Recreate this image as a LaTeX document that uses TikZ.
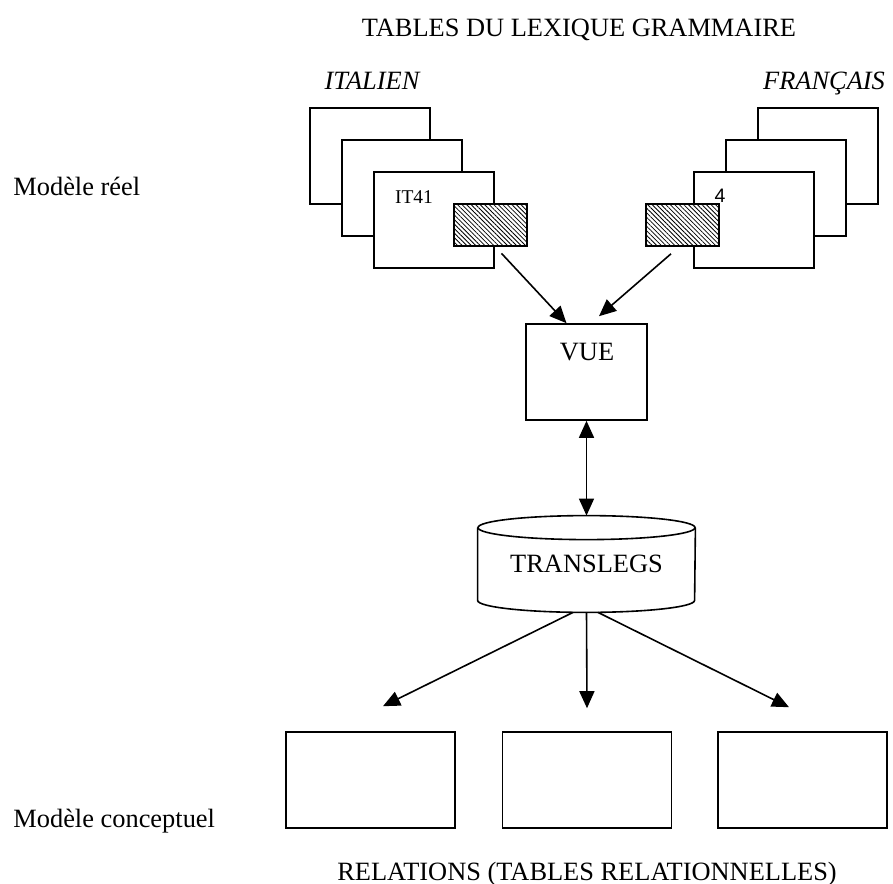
\documentclass[tikz,border=0pt]{standalone}
\usepackage{fontspec}
\setmainfont{Liberation Serif}
\newfontfamily\sansnum{Liberation Sans}
\usetikzlibrary{arrows.meta,patterns.meta}

\begin{document}
\begin{tikzpicture}[x=0.5pt, y=-0.5pt,
	edge/.style={line width=0.8pt},
	sheet/.style={draw, edge, fill=white, inner sep=0pt, minimum width=60pt, minimum height=48pt},
	hatch/.style={draw, edge, preaction={fill=white}, pattern={Lines[angle=-45, distance=1.6pt, line width=0.4pt]}, inner sep=0pt, minimum width=36.5pt, minimum height=21pt},
	viewbox/.style={draw, edge, inner sep=0pt, minimum width=60.5pt, minimum height=48pt},
	dbshape/.style={inner sep=0pt, minimum width=108.5pt, minimum height=48pt, font=\fontsize{13.2}{15}\selectfont},
	relbox/.style={draw, edge, inner sep=0pt, minimum width=84.5pt, minimum height=48pt},
	txt/.style={inner sep=0pt, anchor=base, font=\fontsize{13.2}{15}\selectfont},
	tag/.style={inner sep=0pt, anchor=base, font=\fontsize{9.75}{11}\selectfont},
	arr/.style={edge, -{Triangle[length=8.5pt, width=7.5pt]}},
	twoarr/.style={edge, {Triangle[length=8.5pt, width=7.5pt]}-{Triangle[length=8.5pt, width=7.5pt]}}]
	\useasboundingbox (0, 0) rectangle (893, 883);

	% titles
	\draw (579, 37) 	node[txt] 				(title) 	{TABLES DU LEXIQUE GRAMMAIRE};
	\draw (372, 90) 	node[txt, font=\fontsize{13.2}{15}\itshape] 	(it) 	{ITALIEN};
	\draw (824, 90) 	node[txt, font=\fontsize{13.2}{15}\itshape] 	(fr) 	{FRANÇAIS};
	\draw (13, 195) 	node[txt, anchor=base west] 	(reel) 	{Modèle réel};
	\draw (13, 827) 	node[txt, anchor=base west] 	(concept) 	{Modèle conceptuel};
	\draw (587, 880) 	node[txt] 				(rel) 		{RELATIONS (TABLES RELATIONNELLES)};

	% italian tables
	\draw (370, 156) 	node[sheet] 	(it_c) 		{};
	\draw (402, 188) 	node[sheet] 	(it_b) 		{};
	\draw (434, 220) 	node[sheet] 	(it_a) 		{};
	\draw (414, 203) 	node[tag] 		(it_name) 	{IT41};
	\draw (490.5, 225) 	node[hatch] 	(it_sel) 	{};

	% french tables
	\draw (818, 156) 	node[sheet] 	(fr_c) 		{};
	\draw (786, 188) 	node[sheet] 	(fr_b) 		{};
	\draw (754, 220) 	node[sheet] 	(fr_a) 		{};
	\draw (720, 202) 	node[tag, font=\fontsize{9.75}{11}\sansnum] 	(fr_name) 	{4};
	\draw (682.5, 225) 	node[hatch] 	(fr_sel) 	{};

	% view and database
	\draw (586.5, 372) 	node[viewbox] 	(vue) 		{};
	\draw (587, 360) 	node[txt] 		(vue_name) 	{VUE};
	\draw (586.5, 564) 	node[dbshape] 	(db) 		{TRANSLEGS};
	\draw[edge] ([shift={(0, 12)}]db.north) ellipse [x radius=54.25pt, y radius=6pt];
	\draw[edge] ([shift={(0, 12)}]db.north west) -- ([shift={(0, -12)}]db.south west)
		arc [start angle=180, end angle=360, x radius=54.25pt, y radius=6pt]
		-- ([shift={(0, 12)}]db.north east);

	% relations
	\draw (370.5, 780) 	node[relbox] 	(rel_a) 	{};
	\draw (587, 780) 	node[relbox] 	(rel_b) 	{};
	\draw (802.5, 780) 	node[relbox] 	(rel_c) 	{};

	\draw[arr] ([shift={(11, 7)}]it_sel.south) -- ([shift={(-20, 0)}]vue.north);
	\draw[arr] ([shift={(-11.5, 7)}]fr_sel.south) -- ([shift={(12.5, -7)}]vue.north);
	\draw[twoarr] (vue.south) -- (db.north);
	\draw[arr] ([shift={(-13.5, 0)}]db.south) -- ([shift={(12.5, -25)}]rel_a.north);
	\draw[arr] (db.south) -- ([shift={(0, -23)}]rel_b.north);
	\draw[arr] ([shift={(11.5, 0)}]db.south) -- ([shift={(-13.5, -24)}]rel_c.north);
\end{tikzpicture}
\end{document}
